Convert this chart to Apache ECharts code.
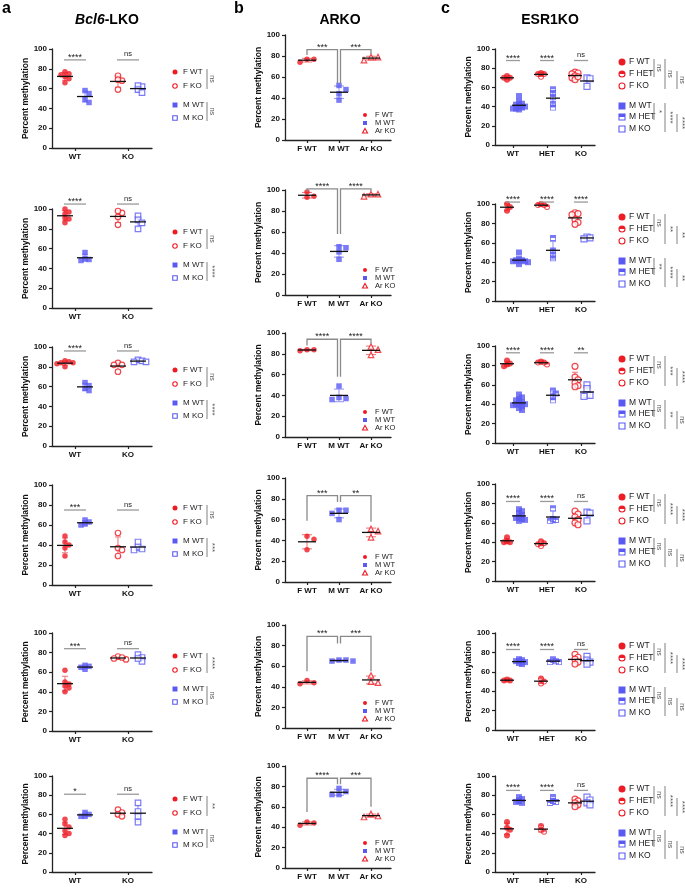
<!DOCTYPE html>
<html>
<head>
<meta charset="utf-8">
<title>Percent methylation</title>
<script src="https://cdn.jsdelivr.net/npm/echarts@6.0.0/dist/echarts.min.js"></script>
<style>
  html, body { margin: 0; padding: 0; background: #fff; }
  #main { width: 685px; height: 889px; }
</style>
</head>
<body>
<div id="main"></div>
<script>
// ---------- values ----------

// a: Bcl6-LKO, one row per panel, groups F WT, M WT, F KO, M KO
var bcl6Cats = ['WT', 'KO'];
var bcl6Rows = [
  [[77, 75, 74, 66, 70, 72], [58, 55, 49, 46], [73, 68, 69, 59], [62, 63, 59, 56]],
  [[100, 97, 95, 91, 90, 86], [56, 49, 48, 50], [96, 98, 92, 84], [93, 89, 86, 80]],
  [[86, 85, 84, 84, 83, 80], [64, 61, 58, 56], [84, 82, 82, 75], [87, 85, 86, 85]],
  [[49, 43, 40, 37, 29], [65, 63, 60, 61], [52, 37, 35, 29], [43, 38, 36, 35]],
  [[62, 50, 48, 46, 44, 40], [67, 65, 63, 66], [76, 74, 73, 75], [78, 75, 71, 74]],
  [[55, 50, 47, 43, 40, 38], [62, 60, 58, 58], [65, 62, 60, 58], [72, 63, 58, 52]]
];
var bcl6Sig = [['****', 'ns'], ['****', 'ns'], ['****', 'ns'], ['***', 'ns'], ['***', 'ns'], ['*', 'ns']];
var bcl6SideSig = [['ns', 'ns'], ['ns', '****'], ['ns', '****'], ['ns', '***'], ['****', 'ns'], ['**', 'ns']];

// b: ARKO, groups F WT, M WT, Ar KO
var arkoCats = ['F WT', 'M WT', 'Ar KO'];
var arkoRows = [
  [[74, 77, 77], [52, 48, 44, 38], [76, 79, 79]],
  [[98, 93, 94], [45, 46, 41, 34], [94, 96, 96]],
  [[83, 84, 84], [49, 38, 37, 36], [87, 84, 79]],
  [[44, 41, 31], [69, 69, 66, 60], [51, 49, 43]],
  [[46, 43, 44], [66, 65, 65, 66], [51, 45, 44]],
  [[45, 42, 44], [78, 75, 72, 72], [53, 51, 50]]
];
var arkoSig = [['***', '***'], ['****', '****'], ['****', '****'], ['***', '**'], ['***', '***'], ['****', '***']];

// c: ESR1KO, groups F WT, F HET, F KO, M WT, M HET, M KO
var esrCats = ['WT', 'HET', 'KO'];
var esrRows = [
  [[72, 70, 70, 68], [75, 74, 74, 71], [76, 75, 74, 72, 70, 68, 71],
   [51, 45, 43, 42, 40, 39, 38, 37, 38, 41], [58, 54, 50, 43, 39], [70, 69, 61]],
  [[100, 97, 93], [97, 99, 100, 99], [91, 90, 89, 84, 81, 79],
   [50, 43, 42, 41, 40, 38, 41, 42], [65, 52, 48, 44], [66, 65, 64]],
  [[85, 82, 79, 81], [81, 83, 84, 83], [79, 68, 65, 62, 59, 58],
   [50, 47, 45, 44, 42, 41, 40, 40, 39, 38, 36, 34], [54, 51, 48, 44], [60, 56, 50, 49, 48]],
  [[45, 41, 40, 40], [41, 39, 38, 36], [72, 69, 66, 63, 60, 58],
   [74, 72, 70, 68, 66, 65, 64, 63, 62], [75, 64, 63, 62], [71, 70, 62]],
  [[52, 51, 51], [53, 50, 48], [78, 75, 73, 70, 68],
   [72, 70, 69, 68, 71, 73], [73, 71, 70, 70], [76, 72, 70, 68]],
  [[52, 46, 44, 38], [48, 44, 42], [76, 74, 72, 70, 68],
   [78, 76, 74, 73, 72], [78, 74, 73, 72], [78, 75, 72, 70]]
];
var esrSig = [['****', '****', 'ns'], ['****', '****', '****'], ['****', '****', '**'],
              ['****', '****', 'ns'], ['****', '****', 'ns'], ['****', '****', 'ns']];
var esrSideF = [['ns', 'ns', 'ns'], ['ns', '**', '**'], ['ns', '***', '****'],
                ['ns', '****', '****'], ['ns', '****', '****'], ['ns', '****', '****']];
var esrSideM = [['*', '****', '****'], ['**', '****', '**'], ['ns', '**', 'ns'],
                ['ns', 'ns', 'ns'], ['ns', 'ns', 'ns'], ['ns', 'ns', 'ns']];

// ---------- layout ----------
// [top of axis (100), bottom of axis (0)] per row
var aRows = [[49, 148], [209, 308], [347, 446], [485, 585], [633, 731], [776, 872]];
var bRows = [[35, 140], [190, 295], [333, 437], [478, 582], [625, 728], [766, 868]];
var cRows = [[49, 145], [204, 301], [346, 443], [484, 581], [633, 730], [776, 872]];
// height of the comparison lines (in axis units)
var aSigY = [89, 105, 96, 75, 84, 81];
var cSigY = [88, 102, 93, 82, 83, 85];
// ARKO brackets: top, leg F WT, leg M WT, leg Ar KO
var bBrackets = [[86, 81, 54, 82], [101, 99, 58, 99], [94, 88, 58, 90],
                 [83, 59, 77, 58], [89, 55, 82, 55], [88, 55, 82, 60]];

var FONT = '"Liberation Sans", Arial, Helvetica, sans-serif';
var RED = '#ed1c24', BLUE = '#5a5af2';
var RED_BAR = '#f27c80', BLUE_BAR = '#9a9af6';
var AXIS = '#222';
var SIG = '#9a9a9a';
var SIDE = '#8c8c8c';

var HALF_CIRCLE = 'path://M0 -10A10 10 0 1 1 0 10A10 10 0 1 1 0 -10ZM7.2 0L-7.2 0A7.2 7.2 0 0 0 7.2 0Z';
var HALF_SQUARE = 'path://M-10 -10L10 -10L10 10L-10 10ZM7.2 0L-7.2 0L-7.2 7.2L7.2 7.2Z';

var option = {
  animation: false,
  backgroundColor: '#fff',
  textStyle: { fontFamily: FONT },
  grid: [], xAxis: [], yAxis: [], series: [], graphic: []
};
var G = option.graphic;

function mean(a) {
  return a.reduce(function (s, v) { return s + v; }, 0) / a.length;
}
function stdev(a) {
  var m = mean(a);
  return Math.sqrt(a.reduce(function (s, v) { return s + (v - m) * (v - m); }, 0) / (a.length - 1));
}

// spread overlapping points sideways (beeswarm style); gap = allowed overlap factor
function swarm(vals, center, pxX, pxY, d, step, gap) {
  var order = vals.map(function (v, i) { return i; })
    .sort(function (p, q) { return vals[q] - vals[p]; });
  var placed = [], xs = [];
  var minD = d * gap;
  order.forEach(function (i) {
    var y = vals[i] * pxY, off = 0;
    for (var k = 0; k < 30; k++) {
      off = Math.ceil(k / 2) * (k % 2 ? 1 : -1) * step;
      var free = placed.every(function (p) {
        var dx = p[0] - off, dy = p[1] - y;
        return dx * dx + dy * dy >= minD * minD;
      });
      if (free) break;
    }
    placed.push([off, y]);
    xs[i] = center + off / pxX;
  });
  return xs;
}

function kindStyle(kind, color) {
  var sym = { circle: 'circle', ocircle: 'circle', square: 'rect', osquare: 'rect',
              otriangle: 'triangle', hcircle: HALF_CIRCLE, hsquare: HALF_SQUARE }[kind];
  var hollow = kind.charAt(0) === 'o';
  return {
    symbol: sym,
    itemStyle: hollow ? { color: '#fff', borderColor: color, borderWidth: 1.2 } : { color: color }
  };
}

function mkText(x, y, text, o) {
  o = o || {};
  return {
    type: 'text', x: x, y: y, rotation: o.rotation || 0, silent: true,
    style: {
      text: text, fill: o.color || '#1a1a1a',
      fontSize: o.size || 8, fontWeight: o.weight || 'normal', fontFamily: FONT,
      textAlign: o.align || 'left', align: o.align || 'left',
      textVerticalAlign: o.valign || 'middle', verticalAlign: o.valign || 'middle',
      rich: o.rich
    }
  };
}

function legendMarker(kind, color, cx, cy, s) {
  var r = s / 2;
  var hollow = function () { return { fill: '#fff', stroke: color, lineWidth: 1.1 }; };
  var solid = function () { return { fill: color }; };
  var els = [];
  if (kind === 'circle') els.push({ type: 'circle', shape: { cx: cx, cy: cy, r: r }, style: solid() });
  if (kind === 'ocircle') els.push({ type: 'circle', shape: { cx: cx, cy: cy, r: r - 0.5 }, style: hollow() });
  if (kind === 'hcircle') {
    els.push({ type: 'circle', shape: { cx: cx, cy: cy, r: r - 0.5 }, style: hollow() });
    els.push({ type: 'sector', shape: { cx: cx, cy: cy, r: r - 0.5, r0: 0, startAngle: Math.PI, endAngle: Math.PI * 2 }, style: solid() });
  }
  if (kind === 'square') els.push({ type: 'rect', shape: { x: cx - r, y: cy - r, width: s, height: s }, style: solid() });
  if (kind === 'osquare') els.push({ type: 'rect', shape: { x: cx - r + 0.5, y: cy - r + 0.5, width: s - 1, height: s - 1 }, style: hollow() });
  if (kind === 'hsquare') {
    els.push({ type: 'rect', shape: { x: cx - r + 0.5, y: cy - r + 0.5, width: s - 1, height: s - 1 }, style: hollow() });
    els.push({ type: 'rect', shape: { x: cx - r + 0.5, y: cy - r + 0.5, width: s - 1, height: r - 0.5 }, style: solid() });
  }
  if (kind === 'otriangle') {
    els.push({ type: 'polygon', shape: { points: [[cx, cy - r], [cx + r, cy + r * 0.8], [cx - r, cy + r * 0.8]] }, style: hollow() });
  }
  els.forEach(function (e) { e.silent = true; G.push(e); });
}

function sideBar(x, y1, y2, label) {
  G.push({ type: 'line', silent: true, shape: { x1: x, y1: y1, x2: x, y2: y2 }, style: { stroke: SIDE, lineWidth: 1.1 } });
  G.push(mkText(x + 1.5, (y1 + y2) / 2, label,
    { rotation: -Math.PI / 2, align: 'center', valign: 'bottom', size: label === 'ns' ? 7 : 8, color: '#555' }));
}

// one panel: grid + axes + points + mean/SD
function addPanel(p) {
  var k = option.grid.length;
  var ticks = p.cats.map(function (c, i) { return i + 1; });
  option.grid.push({ left: p.left, top: p.top, width: p.width, height: p.bottom - p.top });
  option.xAxis.push({
    type: 'value', gridIndex: k, min: p.xMin, max: p.xMax,
    axisLine: { show: true, onZero: false, lineStyle: { color: AXIS, width: 1.3 } },
    axisTick: { show: true, customValues: ticks, length: 3, lineStyle: { color: AXIS, width: 1.2 } },
    axisLabel: {
      show: true, customValues: ticks, margin: 5,
      fontSize: 8, fontWeight: 'bold', color: '#111', fontFamily: FONT,
      formatter: function (v) { return p.cats[Math.round(v) - 1] || ''; }
    },
    splitLine: { show: false }
  });
  option.yAxis.push({
    type: 'value', gridIndex: k, min: 0, max: 100, interval: 20,
    name: 'Percent methylation', nameLocation: 'middle', nameGap: p.nameGap,
    nameTextStyle: { fontSize: 8.5, fontWeight: 'bold', color: '#111', fontFamily: FONT },
    axisLine: { show: true, onZero: false, lineStyle: { color: AXIS, width: 1.3 } },
    axisTick: { show: true, length: 3, lineStyle: { color: AXIS, width: 1.2 } },
    axisLabel: { margin: 5, fontSize: 8, fontWeight: 'bold', color: '#111', fontFamily: FONT },
    splitLine: { show: false }
  });

  var pxX = p.width / (p.xMax - p.xMin), pxY = (p.bottom - p.top) / 100;
  var stats = [], barCols = [];
  p.groups.forEach(function (g) {
    var xs = swarm(g.vals, g.pos, pxX, pxY, p.size, p.step, p.gap);
    var st = kindStyle(g.kind, g.color);
    option.series.push({
      type: 'scatter', xAxisIndex: k, yAxisIndex: k, silent: true, z: 3,
      symbol: st.symbol, symbolSize: p.size, symbolKeepAspect: true, itemStyle: st.itemStyle,
      data: g.vals.map(function (v, i) { return [xs[i], v]; })
    });
    stats.push([g.pos, mean(g.vals), stdev(g.vals)]);
    barCols.push(g.color === RED ? RED_BAR : BLUE_BAR);
  });

  // SD error bars (behind the points)
  option.series.push({
    type: 'custom', xAxisIndex: k, yAxisIndex: k, silent: true, z: 2, data: stats,
    renderItem: function (params, api) {
      var x = api.value(0), m = api.value(1), s = api.value(2);
      var hi = api.coord([x, m + s]), lo = api.coord([x, m - s]);
      var col = barCols[params.dataIndex];
      function ln(x1, y1, x2, y2) {
        return { type: 'line', shape: { x1: x1, y1: y1, x2: x2, y2: y2 }, style: { stroke: col, lineWidth: 1.1 } };
      }
      return { type: 'group', children: [
        ln(hi[0], hi[1], lo[0], lo[1]),
        ln(hi[0] - p.cap, hi[1], hi[0] + p.cap, hi[1]),
        ln(lo[0] - p.cap, lo[1], lo[0] + p.cap, lo[1])
      ] };
    }
  });
  // mean lines (on top)
  option.series.push({
    type: 'custom', xAxisIndex: k, yAxisIndex: k, silent: true, z: 4, data: stats,
    renderItem: function (params, api) {
      var c = api.coord([api.value(0), api.value(1)]);
      return { type: 'line', shape: { x1: c[0] - p.meanHalf, y1: c[1], x2: c[0] + p.meanHalf, y2: c[1] },
               style: { stroke: '#111', lineWidth: 1.3 } };
    }
  });
  return k;
}

function starStyle(lab) {
  return {
    text: lab, fill: '#222', fontFamily: FONT,
    fontSize: lab === 'ns' ? 7.5 : 9,
    textAlign: 'center', align: 'center',
    textVerticalAlign: 'bottom', verticalAlign: 'bottom'
  };
}

// comparison line over each category (panels a and c)
function addSigLines(k, labels, y, half) {
  option.series.push({
    type: 'custom', xAxisIndex: k, yAxisIndex: k, silent: true, z: 4,
    data: labels.map(function (l, i) { return [i + 1, y]; }),
    renderItem: function (params, api) {
      var pt = api.coord([api.value(0), api.value(1)]);
      var lab = labels[params.dataIndex];
      return { type: 'group', children: [
        { type: 'line', shape: { x1: pt[0] - half, y1: pt[1], x2: pt[0] + half, y2: pt[1] },
          style: { stroke: SIG, lineWidth: 1.3 } },
        { type: 'text', x: pt[0], y: pt[1] + (lab === 'ns' ? -1.5 : 2), style: starStyle(lab) }
      ] };
    }
  });
}

// brackets F WT - M WT and M WT - Ar KO (panel b)
function addBrackets(k, labels, br) {
  option.series.push({
    type: 'custom', xAxisIndex: k, yAxisIndex: k, silent: true, z: 4,
    data: [[1, 2, br[0], br[1], br[2]], [2, 3, br[0], br[2], br[3]]],
    renderItem: function (params, api) {
      var i = params.dataIndex;
      var a = api.coord([api.value(0), api.value(2)]), b = api.coord([api.value(1), api.value(2)]);
      var la = api.coord([api.value(0), api.value(3)]), lb = api.coord([api.value(1), api.value(4)]);
      var ax = a[0] + (i === 1 ? 1.5 : 0), bx = b[0] - (i === 0 ? 1.5 : 0);
      return { type: 'group', children: [
        { type: 'polyline', shape: { points: [[ax, la[1]], [ax, a[1]], [bx, b[1]], [bx, lb[1]]] },
          style: { stroke: '#8a8a8a', lineWidth: 1.3, fill: null } },
        { type: 'text', x: (ax + bx) / 2, y: a[1] + 2, style: starStyle(labels[i]) }
      ] };
    }
  });
}

// ---------- build the 18 panels ----------
var A = { left: 52, width: 100, xMin: 0.566, xMax: 2.453, off: 0.189 };
var B = { left: 285, width: 106, xMin: 0.3125, xMax: 3.625 };
var C = { left: 495, width: 100, xMin: 0.4706, xMax: 3.4118, off: 0.176 };

bcl6Rows.forEach(function (d, r) {
  var T = aRows[r][0], Bt = aRows[r][1];
  var k = addPanel({
    left: A.left, width: A.width, top: T, bottom: Bt, xMin: A.xMin, xMax: A.xMax,
    cats: bcl6Cats, nameGap: 21, size: 5.5, step: 4, gap: 0.65, meanHalf: 8, cap: 3,
    groups: [
      { vals: d[0], pos: 1 - A.off, kind: 'circle', color: RED },
      { vals: d[1], pos: 1 + A.off, kind: 'square', color: BLUE },
      { vals: d[2], pos: 2 - A.off, kind: 'ocircle', color: RED },
      { vals: d[3], pos: 2 + A.off, kind: 'osquare', color: BLUE }
    ]
  });
  addSigLines(k, bcl6Sig[r], aSigY[r], 11);
  var L = A.left;
  legendMarker('circle', RED, L + 123, T + 23, 5);
  legendMarker('ocircle', RED, L + 123, T + 37, 5.5);
  legendMarker('square', BLUE, L + 123, T + 56, 5);
  legendMarker('osquare', BLUE, L + 123, T + 69, 5.5);
  G.push(mkText(L + 131, T + 23, 'F WT'));
  G.push(mkText(L + 131, T + 37, 'F KO'));
  G.push(mkText(L + 131, T + 56, 'M WT'));
  G.push(mkText(L + 131, T + 69, 'M KO'));
  sideBar(L + 155, T + 20, T + 40, bcl6SideSig[r][0]);
  sideBar(L + 155, T + 53, T + 72, bcl6SideSig[r][1]);
});

arkoRows.forEach(function (d, r) {
  var T = bRows[r][0], Bt = bRows[r][1];
  var k = addPanel({
    left: B.left, width: B.width, top: T, bottom: Bt, xMin: B.xMin, xMax: B.xMax,
    cats: arkoCats, nameGap: 20, size: 5.5, step: 7, gap: 0.9, meanHalf: 9, cap: 5,
    groups: [
      { vals: d[0], pos: 1, kind: 'circle', color: RED },
      { vals: d[1], pos: 2, kind: 'square', color: BLUE },
      { vals: d[2], pos: 3, kind: 'otriangle', color: RED }
    ]
  });
  addBrackets(k, arkoSig[r], bBrackets[r]);
  var L = B.left;
  legendMarker('circle', RED, L + 80, Bt - 25, 4);
  legendMarker('square', BLUE, L + 80, Bt - 17, 4);
  legendMarker('otriangle', RED, L + 80, Bt - 9, 5);
  G.push(mkText(L + 90, Bt - 25, 'F WT', { size: 7.5 }));
  G.push(mkText(L + 90, Bt - 17, 'M WT', { size: 7.5 }));
  G.push(mkText(L + 90, Bt - 9, 'Ar KO', { size: 7.5 }));
});

esrRows.forEach(function (d, r) {
  var T = cRows[r][0], Bt = cRows[r][1];
  var k = addPanel({
    left: C.left, width: C.width, top: T, bottom: Bt, xMin: C.xMin, xMax: C.xMax,
    cats: esrCats, nameGap: 15, size: 6, step: 3, gap: 0.5, meanHalf: 7, cap: 3,
    groups: [
      { vals: d[0], pos: 1 - C.off, kind: 'circle', color: RED },
      { vals: d[1], pos: 2 - C.off, kind: 'hcircle', color: RED },
      { vals: d[2], pos: 3 - C.off, kind: 'ocircle', color: RED },
      { vals: d[3], pos: 1 + C.off, kind: 'square', color: BLUE },
      { vals: d[4], pos: 2 + C.off, kind: 'hsquare', color: BLUE },
      { vals: d[5], pos: 3 + C.off, kind: 'osquare', color: BLUE }
    ]
  });
  addSigLines(k, esrSig[r], cSigY[r], 7);
  var L = C.left;
  var rows = [[13, 'circle', RED, 'F WT'], [25, 'hcircle', RED, 'F HET'], [37, 'ocircle', RED, 'F KO'],
              [57, 'square', BLUE, 'M WT'], [68, 'hsquare', BLUE, 'M HET'], [80, 'osquare', BLUE, 'M KO']];
  rows.forEach(function (it) {
    legendMarker(it[1], it[2], L + 127, T + it[0], 7);
    G.push(mkText(L + 134, T + it[0], it[3], { size: 8.5 }));
  });
  sideBar(L + 159, T + 10, T + 28, esrSideF[r][0]);
  sideBar(L + 170, T + 10, T + 40, esrSideF[r][1]);
  sideBar(L + 182, T + 22, T + 40, esrSideF[r][2]);
  sideBar(L + 159, T + 54, T + 71, esrSideM[r][0]);
  sideBar(L + 170, T + 54, T + 83, esrSideM[r][1]);
  sideBar(L + 182, T + 65, T + 83, esrSideM[r][2]);
});

// panel letters and titles
G.push(mkText(2, 9, 'a', { size: 16, weight: 'bold', color: '#000' }));
G.push(mkText(234, 9, 'b', { size: 16, weight: 'bold', color: '#000' }));
G.push(mkText(441, 9, 'c', { size: 16, weight: 'bold', color: '#000' }));
G.push(mkText(107, 20, '{i|Bcl6}-LKO', {
  size: 14, weight: 'bold', color: '#000', align: 'center',
  rich: { i: { fontStyle: 'italic', fontWeight: 'bold', fontSize: 14, fontFamily: FONT, fill: '#000' } }
}));
G.push(mkText(340, 20, 'ARKO', { size: 14, weight: 'bold', color: '#000', align: 'center' }));
G.push(mkText(550, 20, 'ESR1KO', { size: 14, weight: 'bold', color: '#000', align: 'center' }));

var chart = echarts.init(document.getElementById('main'));
chart.setOption(option);
</script>
</body>
</html>
